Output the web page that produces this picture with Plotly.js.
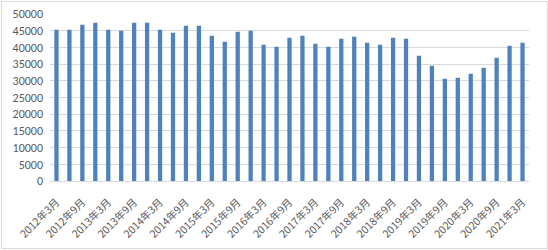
<!DOCTYPE html>
<html>
<head>
<meta charset="utf-8">
<script src="https://cdn.plot.ly/plotly-3.0.1.min.js"></script>
<style>
html,body{margin:0;padding:0;background:#fff;}
#wrap{position:relative;width:548px;height:250px;}
#chart{position:absolute;left:0;top:0;width:548px;height:250px;}
#frame{position:absolute;left:1px;top:1px;width:545px;height:246px;border:1px solid #d9d9d9;pointer-events:none;}
</style>
</head>
<body>
<div id="wrap"><div id="chart"></div><div id="frame"></div></div>
<script>
var categories = [
  "2012年3月","2012年6月","2012年9月","2012年12月",
  "2013年3月","2013年6月","2013年9月","2013年12月",
  "2014年3月","2014年6月","2014年9月","2014年12月",
  "2015年3月","2015年6月","2015年9月","2015年12月",
  "2016年3月","2016年6月","2016年9月","2016年12月",
  "2017年3月","2017年6月","2017年9月","2017年12月",
  "2018年3月","2018年6月","2018年9月","2018年12月",
  "2019年3月","2019年6月","2019年9月","2019年12月",
  "2020年3月","2020年6月","2020年9月","2020年12月",
  "2021年3月"
];
var values = [
  45300, 45300, 46800, 47400,
  45300, 45000, 47400, 47400,
  45300, 44400, 46500, 46500,
  43500, 41700, 44700, 45000,
  40800, 40200, 42900, 43500,
  41100, 40200, 42600, 43200,
  41400, 40800, 42900, 42600,
  37500, 34500, 30600, 30900,
  32100, 33900, 36900, 40500,
  41400
];
var tickLabels = categories.filter(function(c, i){ return i % 2 === 0; });
var yTicks = [0,5000,10000,15000,20000,25000,30000,35000,40000,45000,50000];

var trace = {
  type: 'bar',
  x: categories,
  y: values,
  marker: {color: '#4f81bd'},
  hoverinfo: 'x+y'
};
var layout = {
  width: 548, height: 250,
  margin: {l: 50, r: 19, t: 14, b: 69, pad: 0},
  paper_bgcolor: 'rgba(0,0,0,0)',
  plot_bgcolor: 'rgba(0,0,0,0)',
  bargap: 0.67,
  showlegend: false,
  font: {family: 'Calibri, Carlito, "Noto Sans CJK SC", sans-serif', color: '#595959', size: 11},
  xaxis: {
    type: 'category',
    tickmode: 'array',
    tickvals: tickLabels,
    ticktext: tickLabels,
    tickangle: -45,
    ticklabelstandoff: 10,
    tickfont: {family: '"Noto Sans CJK SC", sans-serif', size: 10.5, color: '#595959'},
    showgrid: false,
    showline: true,
    linecolor: '#d9d9d9',
    linewidth: 1,
    ticks: '',
    automargin: false,
    fixedrange: true
  },
  yaxis: {
    range: [0, 50000],
    tickmode: 'array',
    tickvals: yTicks,
    ticktext: yTicks.map(String),
    showgrid: true,
    gridcolor: '#d9d9d9',
    gridwidth: 1,
    zeroline: false,
    showline: false,
    ticks: '',
    ticklabelstandoff: 6,
    tickfont: {family: 'Calibri, Carlito, "Liberation Sans", sans-serif', size: 12, color: '#595959'},
    automargin: false,
    fixedrange: true
  }
};
Plotly.newPlot('chart', [trace], layout, {displayModeBar: false, staticPlot: true});
</script>
</body>
</html>
